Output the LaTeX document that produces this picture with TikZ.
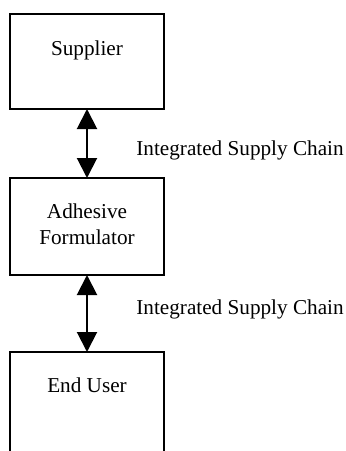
\documentclass[tikz,border=0pt]{standalone}
\usepackage{fontspec}
\setmainfont{Liberation Serif}
\usetikzlibrary{arrows.meta}
\begin{document}
\begin{tikzpicture}[x=0.5pt,y=-0.5pt,
  stage/.style={draw=black,line width=0.6pt,rectangle,inner sep=0pt,outer sep=0pt,minimum width=77pt},
  caption/.style={font=\fontsize{10.6}{13}\selectfont,inner sep=0pt},
  link/.style={line width=1pt,{Triangle[width=10pt,length=10pt]}-{Triangle[width=10pt,length=10pt]}}]
  \clip (0,0) rectangle (346,451);
  % the three stages of the chain
  \node[stage,minimum height=47.5pt] (sup) at (87,61.5) {};
  \node[stage,minimum height=48.5pt] (adh) at (87,226.5) {};
  \node[stage,minimum height=74pt] (usr) at (87,426) {};
  % stage names
  \node[caption,anchor=base] (supT) at (87,55) {Supplier};
  \node[caption,anchor=base] (adhT) at (87,218) {Adhesive};
  \node[caption,anchor=base] (adhT2) at (87,244) {Formulator};
  \node[caption,anchor=base] (usrT) at (87,392) {End User};
  % two-way links between stages
  \draw[link] (sup.south) -- (adh.north);
  \draw[link] (adh.south) -- (usr.north);
  % link labels
  \node[caption,anchor=base west] (lab1) at (136,155) {Integrated Supply Chain};
  \node[caption,anchor=base west] (lab2) at (136,314) {Integrated Supply Chain};
\end{tikzpicture}
\end{document}
